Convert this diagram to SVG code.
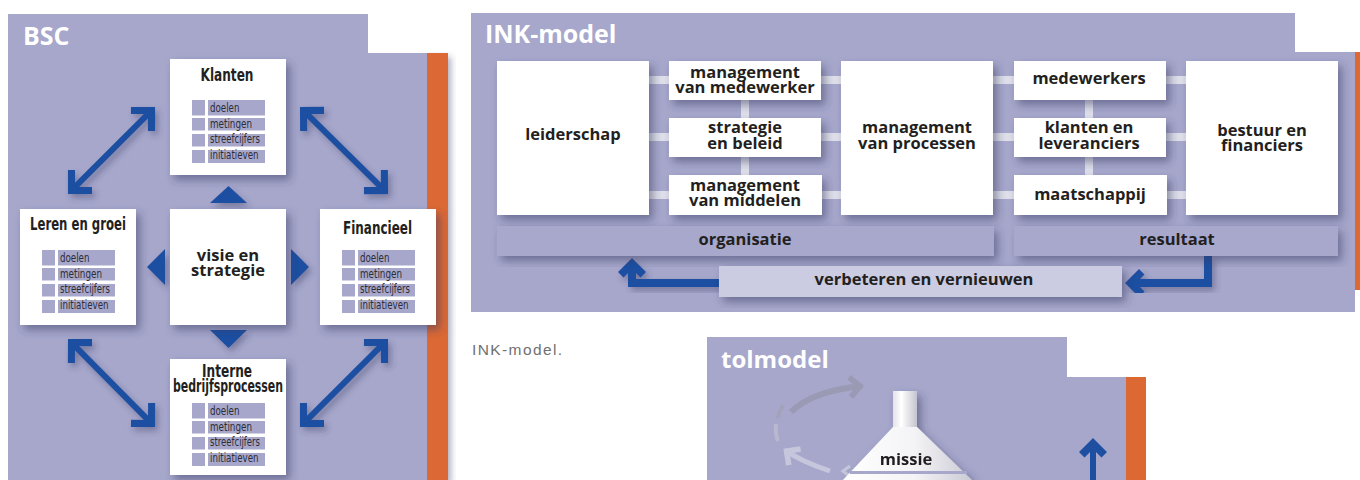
<svg xmlns="http://www.w3.org/2000/svg" xmlns:xlink="http://www.w3.org/1999/xlink" width="1360" height="480" viewBox="0 0 1360 480">
  <style>
    .panel { fill: #a6a7cb; }
    .orange { fill: #dc6934; }
    .box { fill: #ffffff; }
    .lav { fill: #a6a7cb; }
    .title { font-family: "Open Sans", "Noto Sans", sans-serif; font-weight: 700; fill: #ffffff; }
    .cond { font-family: "Liberation Sans Narrow", "DejaVu Sans Condensed", "DejaVu Sans", sans-serif; font-stretch: condensed; font-weight: 700; fill: #231f20; text-anchor: middle; font-size: 17px; }
    .item { font-family: "Liberation Sans Narrow", "DejaVu Sans Condensed", "DejaVu Sans", sans-serif; font-stretch: condensed; fill: #2e2c34; font-size: 12.5px; }
    .lbl { font-family: "Open Sans", "Noto Sans", sans-serif; font-weight: 700; fill: #231f20; text-anchor: middle; font-size: 16.5px; }
    .blue { fill: #1f4fa1; }
    .shaft { fill: none; stroke: #1f4fa1; }
    .link { fill: #dedfe9; }
    .caption { font-family: "Liberation Sans", Arial, sans-serif; fill: #707070; font-size: 15.5px; letter-spacing: 1.4px; }
  </style>
  <defs>
    <filter id="shadow" x="-25%" y="-25%" width="160%" height="160%">
      <feDropShadow dx="4" dy="5" stdDeviation="4" flood-color="#35365f" flood-opacity="0.5"/>
    </filter>
    <filter id="softshadow" x="-25%" y="-25%" width="160%" height="160%">
      <feDropShadow dx="3" dy="4" stdDeviation="3" flood-color="#35365f" flood-opacity="0.4"/>
    </filter>
    <!-- chevron heads, tip sits 4 units past the end of the shaft -->
    <marker id="head-l" markerUnits="userSpaceOnUse" orient="auto-start-reverse" refX="-4" refY="0" markerWidth="40" markerHeight="40" viewBox="-26 -20 30 40" overflow="visible">
      <path class="blue" d="M0,0 L-17,-17 L-22,-12 L-10,0 L-22,12 L-17,17 Z"/>
    </marker>
    <marker id="head-s" markerUnits="userSpaceOnUse" orient="auto" refX="-4" refY="0" markerWidth="40" markerHeight="40" viewBox="-26 -20 30 40" overflow="visible">
      <path class="blue" d="M0,0 L-14,-14 L-19.5,-8.5 L-11,0 L-19.5,8.5 L-14,14 Z"/>
    </marker>
    <marker id="head-gray" markerUnits="userSpaceOnUse" orient="auto" refX="-2" refY="0" markerWidth="40" markerHeight="40" viewBox="-26 -20 30 40" overflow="visible">
      <path fill="#9a9ab4" d="M0,0 L-12,-12 L-16,-8 L-8,0 L-16,8 L-12,12 Z"/>
    </marker>
    <marker id="head-light" markerUnits="userSpaceOnUse" orient="auto" refX="-2" refY="0" markerWidth="40" markerHeight="40" viewBox="-26 -20 30 40" overflow="visible">
      <path fill="#c6c7dc" d="M0,0 L-12,-12 L-16,-8 L-8,0 L-16,8 L-12,12 Z"/>
    </marker>
    <linearGradient id="funnel" x1="0" y1="0" x2="1" y2="0">
      <stop offset="0" stop-color="#ffffff"/>
      <stop offset="0.55" stop-color="#f4f4f6"/>
      <stop offset="1" stop-color="#c9c9d4"/>
    </linearGradient>
    <linearGradient id="neck" x1="0" y1="0" x2="1" y2="0">
      <stop offset="0" stop-color="#e2e2e8"/>
      <stop offset="0.35" stop-color="#ffffff"/>
      <stop offset="1" stop-color="#c4c4d0"/>
    </linearGradient>
    <!-- four-row scorecard list: square + label bar -->
    <g id="kpi-list">
      <rect class="lav" x="0" y="0" width="13" height="15.5"/>
      <rect class="lav" x="16" y="0" width="57" height="15.5"/>
      <rect class="lav" x="0" y="18" width="13" height="12.5"/>
      <rect class="lav" x="16" y="18" width="57" height="12.5"/>
      <rect class="lav" x="0" y="34" width="13" height="12.5"/>
      <rect class="lav" x="16" y="34" width="57" height="12.5"/>
      <rect class="lav" x="0" y="50" width="13" height="13"/>
      <rect class="lav" x="16" y="50" width="57" height="13"/>
      <text class="item" x="18" y="12.3" textLength="29.5" lengthAdjust="spacingAndGlyphs">doelen</text>
      <text class="item" x="18" y="27.7" textLength="42" lengthAdjust="spacingAndGlyphs">metingen</text>
      <text class="item" x="18" y="43.3" textLength="50" lengthAdjust="spacingAndGlyphs">streefcijfers</text>
      <text class="item" x="18" y="59" textLength="48.5" lengthAdjust="spacingAndGlyphs">initiatieven</text>
    </g>
  </defs>

  <!-- ===================== BSC ===================== -->
  <g id="bsc-panel">
    <rect class="orange" x="427" y="53" width="21" height="427" filter="url(#softshadow)"/>
    <path class="panel" d="M8,14 H368 V53 H427 V480 H8 Z"/>
    <text class="title" x="23" y="45" font-size="25">BSC</text>
  </g>

  <g id="bsc-connectors" filter="url(#softshadow)">
    <line class="shaft" stroke-width="6" x1="70.8" y1="191.2" x2="152.2" y2="109.8" marker-start="url(#head-l)" marker-end="url(#head-l)"/>
    <line class="shaft" stroke-width="6" x1="302.8" y1="109.8" x2="385.2" y2="191.2" marker-start="url(#head-l)" marker-end="url(#head-l)"/>
    <line class="shaft" stroke-width="6" x1="70.8" y1="341.8" x2="152.2" y2="424.2" marker-start="url(#head-l)" marker-end="url(#head-l)"/>
    <line class="shaft" stroke-width="6" x1="302.8" y1="424.2" x2="385.2" y2="341.8" marker-start="url(#head-l)" marker-end="url(#head-l)"/>
    <polygon class="blue" points="210,203 247,203 228.5,186"/>
    <polygon class="blue" points="210,330 247,330 228.5,348"/>
    <polygon class="blue" points="165,249 165,285 147,267"/>
    <polygon class="blue" points="291,249 291,285 309,267"/>
  </g>

  <g id="bsc-klanten">
    <rect class="box" x="170" y="59" width="116" height="116" filter="url(#shadow)"/>
    <text class="cond" x="227" y="81" textLength="53" lengthAdjust="spacingAndGlyphs">Klanten</text>
    <use xlink:href="#kpi-list" x="192" y="100"/>
  </g>

  <g id="bsc-leren">
    <rect class="box" x="20" y="209" width="116" height="116" filter="url(#shadow)"/>
    <text class="cond" x="78" y="229.5" textLength="96" lengthAdjust="spacingAndGlyphs">Leren en groei</text>
    <use xlink:href="#kpi-list" x="42" y="250"/>
  </g>

  <g id="bsc-visie">
    <rect class="box" x="170" y="209" width="116" height="116" filter="url(#shadow)"/>
    <text class="lbl" x="228" y="261" font-size="17.5">visie en<tspan x="228" dy="15">strategie</tspan></text>
  </g>

  <g id="bsc-financieel">
    <rect class="box" x="320" y="209" width="116" height="116" filter="url(#shadow)"/>
    <text class="cond" x="377.5" y="234" textLength="69" lengthAdjust="spacingAndGlyphs">Financieel</text>
    <use xlink:href="#kpi-list" x="342" y="250"/>
  </g>

  <g id="bsc-interne">
    <rect class="box" x="170" y="359" width="116" height="116" filter="url(#shadow)"/>
    <text class="cond" x="227" y="376.5"><tspan textLength="50" lengthAdjust="spacingAndGlyphs">Interne</tspan><tspan x="228" dy="15" textLength="110" lengthAdjust="spacingAndGlyphs">bedrijfsprocessen</tspan></text>
    <use xlink:href="#kpi-list" x="192" y="403"/>
  </g>

  <!-- ===================== INK-model ===================== -->
  <g id="ink-panel">
    <rect class="orange" x="1355" y="52" width="5" height="238"/>
    <path class="panel" d="M471,13 H1295 V52 H1355 V312 H471 Z"/>
    <text class="title" x="485" y="43" font-size="25">INK-model</text>
  </g>

  <g id="ink-connectors">
    <!-- light links between the blocks -->
    <rect class="link" x="649" y="76" width="20" height="8"/>
    <rect class="link" x="649" y="133" width="20" height="8"/>
    <rect class="link" x="649" y="191" width="20" height="8"/>
    <rect class="link" x="821" y="76" width="20" height="8"/>
    <rect class="link" x="821" y="133" width="20" height="8"/>
    <rect class="link" x="821" y="191" width="20" height="8"/>
    <rect class="link" x="741" y="100" width="8" height="18"/>
    <rect class="link" x="741" y="157" width="8" height="18"/>
    <rect class="link" x="993" y="76" width="21" height="8"/>
    <rect class="link" x="993" y="133" width="21" height="8"/>
    <rect class="link" x="993" y="191" width="21" height="8"/>
    <rect class="link" x="1166" y="76" width="20" height="8"/>
    <rect class="link" x="1166" y="133" width="20" height="8"/>
    <rect class="link" x="1166" y="191" width="20" height="8"/>
    <rect class="link" x="1085" y="100" width="8" height="18"/>
    <rect class="link" x="1085" y="157" width="8" height="18"/>
    <!-- feedback loop arrows -->
    <g filter="url(#softshadow)">
      <path class="shaft" stroke-width="8" d="M720,283 H632 V262" marker-end="url(#head-s)"/>
      <path class="shaft" stroke-width="8" d="M1208,256 V283 H1129" marker-end="url(#head-s)"/>
    </g>
  </g>

  <g id="ink-leiderschap">
    <rect class="box" x="497" y="61" width="152" height="154" filter="url(#shadow)"/>
    <text class="lbl" x="573" y="140">leiderschap</text>
  </g>
  <g id="ink-medewerker">
    <rect class="box" x="669" y="61" width="152" height="39" filter="url(#shadow)"/>
    <text class="lbl" x="745" y="77.5">management<tspan x="745" dy="15">van medewerker</tspan></text>
  </g>
  <g id="ink-strategie">
    <rect class="box" x="669" y="118" width="152" height="39" filter="url(#shadow)"/>
    <text class="lbl" x="745" y="133">strategie<tspan x="745" dy="16">en beleid</tspan></text>
  </g>
  <g id="ink-middelen">
    <rect class="box" x="669" y="175" width="153" height="40" filter="url(#shadow)"/>
    <text class="lbl" x="745" y="191">management<tspan x="745" dy="15">van middelen</tspan></text>
  </g>
  <g id="ink-processen">
    <rect class="box" x="841" y="61" width="152" height="154" filter="url(#shadow)"/>
    <text class="lbl" x="917" y="133">management<tspan x="917" dy="16">van processen</tspan></text>
  </g>
  <g id="ink-medewerkers">
    <rect class="box" x="1014" y="61" width="152" height="39" filter="url(#shadow)"/>
    <text class="lbl" x="1089" y="84">medewerkers</text>
  </g>
  <g id="ink-klanten">
    <rect class="box" x="1014" y="118" width="152" height="39" filter="url(#shadow)"/>
    <text class="lbl" x="1089" y="133">klanten en<tspan x="1089" dy="16">leveranciers</tspan></text>
  </g>
  <g id="ink-maatschappij">
    <rect class="box" x="1014" y="175" width="153" height="40" filter="url(#shadow)"/>
    <text class="lbl" x="1090" y="199.5">maatschappij</text>
  </g>
  <g id="ink-bestuur">
    <rect class="box" x="1186" y="61" width="152" height="154" filter="url(#shadow)"/>
    <text class="lbl" x="1262" y="135.5">bestuur en<tspan x="1262" dy="15.5">financiers</tspan></text>
  </g>
  <g id="ink-organisatie">
    <rect x="497" y="226" width="497" height="30" fill="#a7a8cc" filter="url(#shadow)"/>
    <text class="lbl" x="745" y="244.5">organisatie</text>
  </g>
  <g id="ink-resultaat">
    <rect x="1014" y="226" width="324" height="30" fill="#a7a8cc" filter="url(#shadow)"/>
    <text class="lbl" x="1177" y="245">resultaat</text>
  </g>
  <g id="ink-verbeteren">
    <rect x="719" y="266" width="403" height="31" fill="#cbcce2" filter="url(#shadow)"/>
    <text class="lbl" x="924" y="284.5">verbeteren en vernieuwen</text>
  </g>

  <text class="caption" x="472" y="355">INK-model.</text>

  <!-- ===================== tolmodel ===================== -->
  <g id="tol-panel">
    <rect class="orange" x="1126" y="377" width="20" height="103"/>
    <path class="panel" d="M707,337 H1067 V377 H1126 V480 H707 Z"/>
    <text class="title" x="721" y="368" font-size="24">tolmodel</text>
  </g>

  <g id="tol-rotation">
    <path d="M791,412 Q812,391 862,386" fill="none" stroke="#9a9ab4" stroke-width="6" marker-end="url(#head-gray)"/>
    <path d="M783,405 Q779,411 778,418" fill="none" stroke="#a2a2ba" stroke-width="4"/>
    <path d="M776,424 Q775,434 778,441" fill="none" stroke="#b8b8cf" stroke-width="4"/>
    <path d="M830,471 Q800,461 785,450" fill="none" stroke="#c6c7dc" stroke-width="5" marker-end="url(#head-light)"/>
    <path d="M850,466 L843,471 L849,476" fill="none" stroke="#c6c7dc" stroke-width="3"/>
  </g>

  <g id="tol-missie" filter="url(#shadow)">
    <rect x="893" y="391" width="24" height="37" fill="url(#neck)"/>
    <polygon points="893,427 917,427 973,481 842,481" fill="url(#funnel)"/>
    <rect x="850" y="471" width="117" height="3" fill="#a6a7cb"/>
    <text class="lbl" x="906" y="465" font-size="17">missie</text>
  </g>

  <g id="tol-arrow">
    <line class="shaft" stroke-width="6" x1="1093" y1="482" x2="1093" y2="442" marker-end="url(#head-s)"/>
  </g>
</svg>
